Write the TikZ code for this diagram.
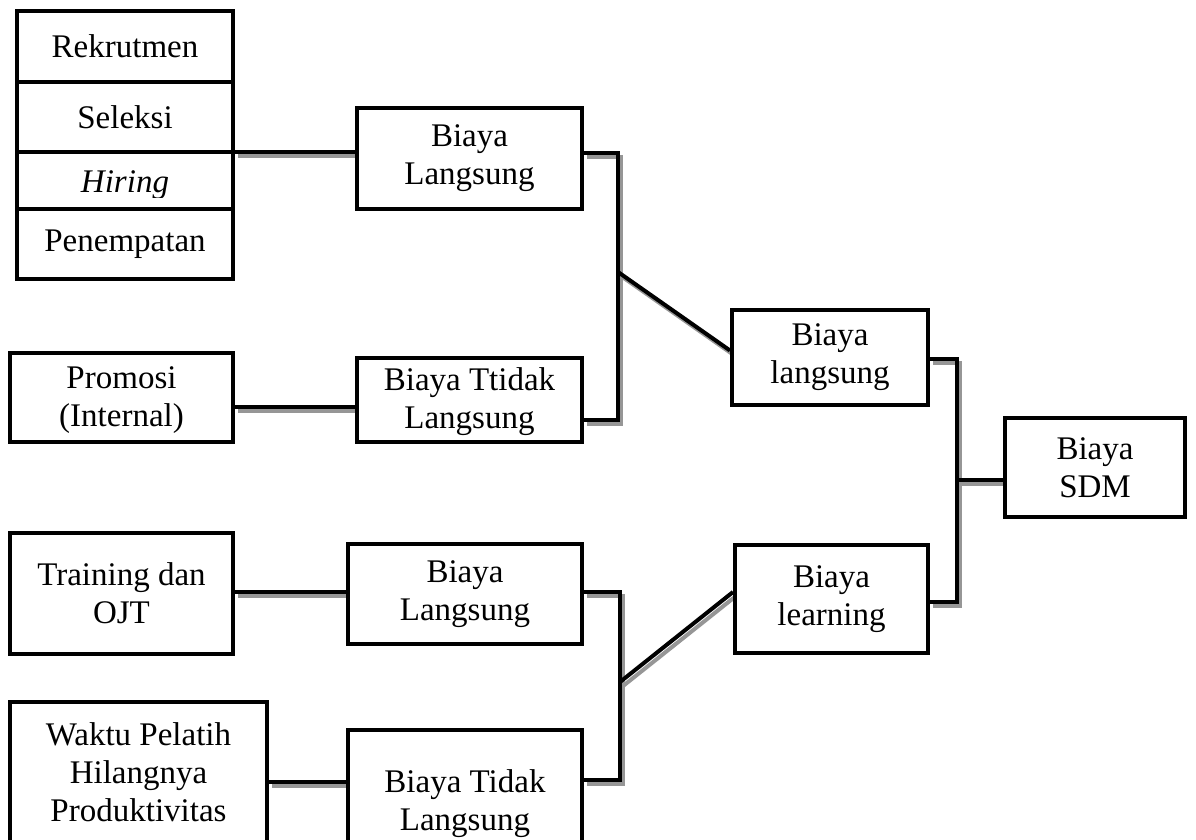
\documentclass[tikz,border=0pt]{standalone}
\usepackage{fontspec}
\setmainfont{Liberation Serif}
\usetikzlibrary{calc}
\pgfdeclarelayer{bg}
\pgfsetlayers{bg,main}
\definecolor{shade}{RGB}{150,150,150}
\tikzset{
  bx/.style={draw, line width=4pt, fill=white, inner sep=0pt, align=center,
    font=\fontsize{33}{38}\selectfont},
  txt/.style={inner sep=0pt, align=center, font=\fontsize{33}{38}\selectfont},
  conn/.style={line width=4pt, line join=miter,
    preaction={draw=shade, line width=4pt, transform canvas={shift={(3pt,-4pt)}}}},
}
\begin{document}
\begin{tikzpicture}[x=1pt,y=-1pt]
\useasboundingbox (0,0) rectangle (1196,839);
\clip (0,0) rectangle (1196,839);
% left stack
\node[bx, minimum width=216, minimum height=71] (rek) at (125,46.5) {Rekrutmen};
\node[bx, minimum width=216, minimum height=70] (sel) at (125,117) {Seleksi};
\node[bx, minimum width=216, minimum height=57] (hir) at (125,180.5) {};
\node[bx, minimum width=216, minimum height=70] (pen) at (125,244) {Penempatan};
\begin{scope}
  \clip (19,154) rectangle (231,197);
  \node[anchor=base, txt, font=\fontsize{33}{38}\selectfont\itshape] (hirtxt) at (125,192) {Hiring};
\end{scope}
% level 1
\node[bx, minimum width=225, minimum height=101] (bl1) at (469.5,158.5) {Biaya\\Langsung};
\node[bx, minimum width=223, minimum height=89] (pro) at (121.5,397.5) {};
\node[txt] (protxt) at ([yshift=-3pt]pro.center) {Promosi\\(Internal)};
\node[bx, minimum width=225, minimum height=84] (btl1) at (469.5,400) {};
\node[txt] (btl1txt) at ([yshift=-2pt]btl1.center) {Biaya Ttidak\\Langsung};
\node[bx, minimum width=223, minimum height=121] (tra) at (121.5,593.5) {Training dan\\OJT};
\node[bx, minimum width=234, minimum height=100] (bl2) at (465,594) {Biaya\\Langsung};
\node[bx, minimum width=257, minimum height=140] (wak) at (138.5,772) {Waktu Pelatih\\Hilangnya\\Produktivitas};
\node[bx, minimum width=234, minimum height=140] (btl2) at (465,800) {};
\node[txt] (btl2txt) at ([yshift=-4pt]btl2.center) {Biaya Tidak\\Langsung};
% level 2
\node[bx, minimum width=196, minimum height=95] (blg) at (830,357.5) {Biaya\\langsung};
\node[bx, minimum width=193, minimum height=108] (ble) at (831.5,599) {Biaya\\learning};
\node[bx, minimum width=180, minimum height=99] (sdm) at (1095,467.5) {Biaya\\SDM};
% junction coordinates
\coordinate (j1t) at (618,153);
\coordinate (j1b) at (618,420);
\coordinate (j1) at (618,272);
\coordinate (j2t) at (620,592);
\coordinate (j2b) at (620,780);
\coordinate (j2) at (620,682);
\coordinate (j3t) at (957,359);
\coordinate (j3b) at (957,602);
\coordinate (j3) at (957,480);
\coordinate (c1) at (300,152);
\coordinate (c2) at (300,407);
\coordinate (c3) at (300,592);
\coordinate (c4) at (300,782);
\begin{pgfonlayer}{bg}
\draw[conn] (c1 -| hir.east) -- (c1 -| bl1.west);
\draw[conn] (c2 -| pro.east) -- (c2 -| btl1.west);
\draw[conn] (c3 -| tra.east) -- (c3 -| bl2.west);
\draw[conn] (c4 -| wak.east) -- (c4 -| btl2.west);
\draw[conn] (j1t -| bl1.east) -- (j1t) -- (j1b) -- (j1b -| btl1.east);
\draw[conn] (j1) -- ([yshift=7pt]blg.west);
\draw[conn] (j2t -| bl2.east) -- (j2t) -- (j2b) -- (j2b -| btl2.east);
\draw[conn] (j2) -- ([yshift=7pt]ble.west);
\draw[conn] (j3t -| blg.east) -- (j3t) -- (j3b) -- (j3b -| ble.east);
\draw[conn] (j3) -- (j3 -| sdm.west);
\end{pgfonlayer}
\end{tikzpicture}
\end{document}
